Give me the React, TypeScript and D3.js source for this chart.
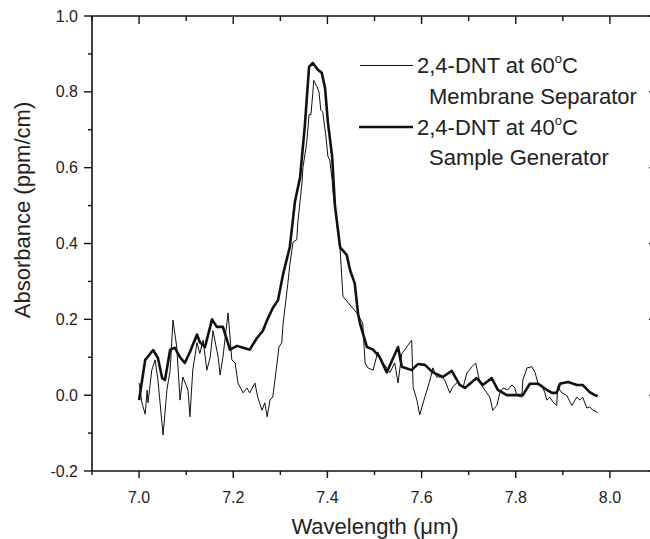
import React from "react";
import * as d3 from "d3";

// 2,4-DNT at 40°C, Sample Generator (thick)
const sampleWl = [
  7.0, 7.013, 7.03, 7.04, 7.049, 7.055, 7.066, 7.076, 7.087, 7.097, 7.108, 7.123, 7.129, 7.14,
  7.155, 7.165, 7.178, 7.193, 7.208, 7.221, 7.235, 7.25, 7.263, 7.272, 7.284, 7.295, 7.306,
  7.32, 7.331, 7.342, 7.352, 7.361, 7.369, 7.38, 7.388, 7.395, 7.401, 7.41, 7.416, 7.427,
  7.441, 7.448, 7.458, 7.465, 7.469, 7.484, 7.497, 7.511, 7.526, 7.55, 7.558, 7.579, 7.592,
  7.607, 7.624, 7.645, 7.664, 7.681, 7.692, 7.717, 7.73, 7.749, 7.762, 7.781, 7.815, 7.83,
  7.847, 7.866, 7.877, 7.887, 7.894, 7.911, 7.93, 7.942, 7.957, 7.968, 7.974,
];
const sampleAbs = [
  -0.013, 0.093, 0.119, 0.098, 0.045, 0.04, 0.12, 0.125, 0.1, 0.085, 0.114, 0.16, 0.14, 0.127,
  0.2, 0.18, 0.18, 0.12, 0.13, 0.125, 0.12, 0.15, 0.17, 0.198, 0.23, 0.25, 0.32,
  0.39, 0.51, 0.575, 0.71, 0.866, 0.876, 0.858, 0.85, 0.81, 0.72, 0.63, 0.5, 0.39,
  0.37, 0.33, 0.295, 0.216, 0.19, 0.127, 0.12, 0.1, 0.06, 0.127, 0.075, 0.066, 0.082,
  0.08, 0.06, 0.048, 0.064, 0.027, 0.019, 0.045, 0.027, 0.045, 0.014, 0.0, 0.0, 0.03,
  0.03, 0.014, 0.006, 0.006, 0.03, 0.035, 0.027, 0.027, 0.008, 0.0, -0.002,
];

// 2,4-DNT at 60°C, Membrane Separator (thin)
const membraneWl = [
  7.0, 7.006, 7.013, 7.017, 7.019, 7.027, 7.034, 7.04, 7.051, 7.059, 7.066, 7.072, 7.08, 7.087,
  7.093, 7.104, 7.108, 7.114, 7.123, 7.129, 7.136, 7.144, 7.151, 7.157, 7.168, 7.172, 7.178,
  7.189, 7.197, 7.204, 7.21, 7.221, 7.229, 7.235, 7.246, 7.252, 7.261, 7.267, 7.272, 7.278,
  7.284, 7.293, 7.297, 7.303, 7.306, 7.316, 7.32, 7.327, 7.335, 7.337, 7.346, 7.348, 7.356,
  7.361, 7.365, 7.369, 7.371, 7.378, 7.382, 7.386, 7.39, 7.397, 7.401, 7.405, 7.41, 7.412,
  7.427, 7.433, 7.463, 7.475, 7.48, 7.486, 7.497, 7.507, 7.518, 7.533, 7.543, 7.55, 7.558,
  7.565, 7.571, 7.579, 7.582, 7.59, 7.596, 7.607, 7.618, 7.624, 7.632, 7.643, 7.649, 7.66,
  7.666, 7.677, 7.688, 7.696, 7.707, 7.715, 7.724, 7.734, 7.745, 7.751, 7.76, 7.766, 7.773,
  7.783, 7.792, 7.798, 7.802, 7.813, 7.815, 7.824, 7.834, 7.841, 7.847, 7.855, 7.862, 7.866,
  7.872, 7.879, 7.887, 7.889, 7.898, 7.908, 7.919, 7.93, 7.936, 7.942, 7.951, 7.957, 7.964,
  7.972, 7.974,
];
const membraneAbs = [
  0.032, -0.02, -0.05, 0.013, -0.02, 0.066, 0.093, 0.04, -0.105, 0.013, 0.066, 0.198, 0.127, -0.013,
  0.048, 0.013, -0.057, 0.066, 0.138, 0.11, 0.145, 0.066, 0.1, 0.17, 0.1, 0.053, 0.1,
  0.217, 0.093, 0.085, 0.032, 0.006, 0.019, 0.006, 0.032, -0.005, -0.04, -0.02, -0.057, -0.013,
  -0.005, 0.085, 0.127, 0.138, 0.19, 0.295, 0.343, 0.404, 0.41, 0.454, 0.56, 0.6, 0.665,
  0.74, 0.74, 0.797, 0.83, 0.813, 0.8, 0.752, 0.747, 0.68, 0.63, 0.62, 0.567, 0.533,
  0.383, 0.26, 0.216, 0.19, 0.085, 0.072, 0.066, 0.114, 0.085, 0.06, 0.085, 0.032, 0.11,
  0.12, 0.132, 0.145, 0.022, -0.013, -0.052, -0.005, 0.04, 0.072, 0.048, 0.048, 0.04, 0.006,
  0.022, 0.035, 0.019, 0.058, 0.075, 0.085, 0.032, 0.014, -0.005, -0.04, -0.027, 0.006, 0.019,
  0.014, 0.027, 0.019, 0.0, -0.005, 0.04, 0.072, 0.075, 0.06, 0.032, 0.027, 0.006, -0.013,
  -0.005, -0.018, -0.027, 0.022, 0.006, 0.0, -0.027, -0.005, -0.013, -0.005, -0.034, -0.031, -0.04,
  -0.044, -0.047,
];

const xTickLabels = ["7.0", "7.2", "7.4", "7.6", "7.8", "8.0"];
const yTickLabels = ["-0.2", "0.0", "0.2", "0.4", "0.6", "0.8", "1.0"];

const W = 650;
const H = 539;
const font = "'Liberation Sans', Arial, sans-serif";

export default function App() {
  const x = d3.scaleLinear().domain([6.9, 8.1]).range([92, 657]);
  const y = d3.scaleLinear().domain([-0.2, 1.0]).range([471, 16]);

  const line = d3
    .line<[number, number]>()
    .x((d) => x(d[0]))
    .y((d) => y(d[1]));

  const sample = sampleWl.map((w, i) => [w, sampleAbs[i]] as [number, number]);
  const membrane = membraneWl.map((w, i) => [w, membraneAbs[i]] as [number, number]);

  const xMinor = d3.range(69, 82).map((v) => v / 10);
  const yMinor = d3.range(-2, 11).map((v) => v / 10);

  const [x0, x1] = x.range();
  const [yb, yt] = y.range();

  return (
    <svg
      width={W}
      height={H}
      style={{ position: "absolute", left: 0, top: 0, background: "#fff" }}
      fontFamily={font}
    >
      {/* frame */}
      <g stroke="#111" strokeWidth={1.6} fill="none">
        <line x1={x0} y1={yb} x2={x1} y2={yb} />
        <line x1={x0} y1={yt} x2={x1} y2={yt} />
        <line x1={x0} y1={yt} x2={x0} y2={yb} />
        <line x1={x1} y1={yt} x2={x1} y2={yb} />
      </g>

      {/* ticks: outward on left/bottom, inward on top/right */}
      <g stroke="#111" strokeWidth={1.4}>
        {xMinor.map((v, i) => {
          const major = i % 2 === 1;
          const len = major ? 7 : 4;
          return (
            <g key={"xt" + i}>
              <line x1={x(v)} x2={x(v)} y1={yb} y2={yb + len} />
              <line x1={x(v)} x2={x(v)} y1={yt} y2={yt + len + 1} />
            </g>
          );
        })}
        {yMinor.map((v, i) => {
          const major = i % 2 === 0;
          const len = major ? 8 : 4;
          return (
            <g key={"yt" + i}>
              <line x1={x0} x2={x0 - len} y1={y(v)} y2={y(v)} />
              <line x1={x1} x2={x1 - len} y1={y(v)} y2={y(v)} />
            </g>
          );
        })}
      </g>

      {/* tick labels */}
      <g fill="#222" fontSize={16}>
        {xTickLabels.map((t) => (
          <text key={t} x={x(+t)} y={503} textAnchor="middle">
            {t}
          </text>
        ))}
        {yTickLabels.map((t) => (
          <text key={t} x={78} y={y(+t)} dy="0.35em" textAnchor="end">
            {t}
          </text>
        ))}
      </g>

      {/* axis titles */}
      <text x={375} y={534} textAnchor="middle" fontSize={22} fill="#222">
        Wavelength (μm)
      </text>
      <text
        transform="translate(30,210) rotate(-90)"
        textAnchor="middle"
        fontSize={22}
        fill="#222"
      >
        Absorbance (ppm/cm)
      </text>

      {/* curves */}
      <path d={line(membrane) || ""} fill="none" stroke="#111" strokeWidth={1} strokeLinejoin="round" />
      <path d={line(sample) || ""} fill="none" stroke="#111" strokeWidth={2.6} strokeLinejoin="round" />

      {/* legend */}
      <g fill="#222" fontSize={22}>
        <line x1={360} x2={413} y1={65.5} y2={65.5} stroke="#111" strokeWidth={1} />
        <text x={417} y={73}>
          2,4-DNT at 60<tspan fontSize={13} dy={-10}>o</tspan>
          <tspan dy={10}>C</tspan>
        </text>
        <text x={429} y={104}>Membrane Separator</text>
        <line x1={359} x2={413} y1={127} y2={127} stroke="#111" strokeWidth={2.6} />
        <text x={417} y={135}>
          2,4-DNT at 40<tspan fontSize={13} dy={-10}>o</tspan>
          <tspan dy={10}>C</tspan>
        </text>
        <text x={429} y={165}>Sample Generator</text>
      </g>
    </svg>
  );
}
